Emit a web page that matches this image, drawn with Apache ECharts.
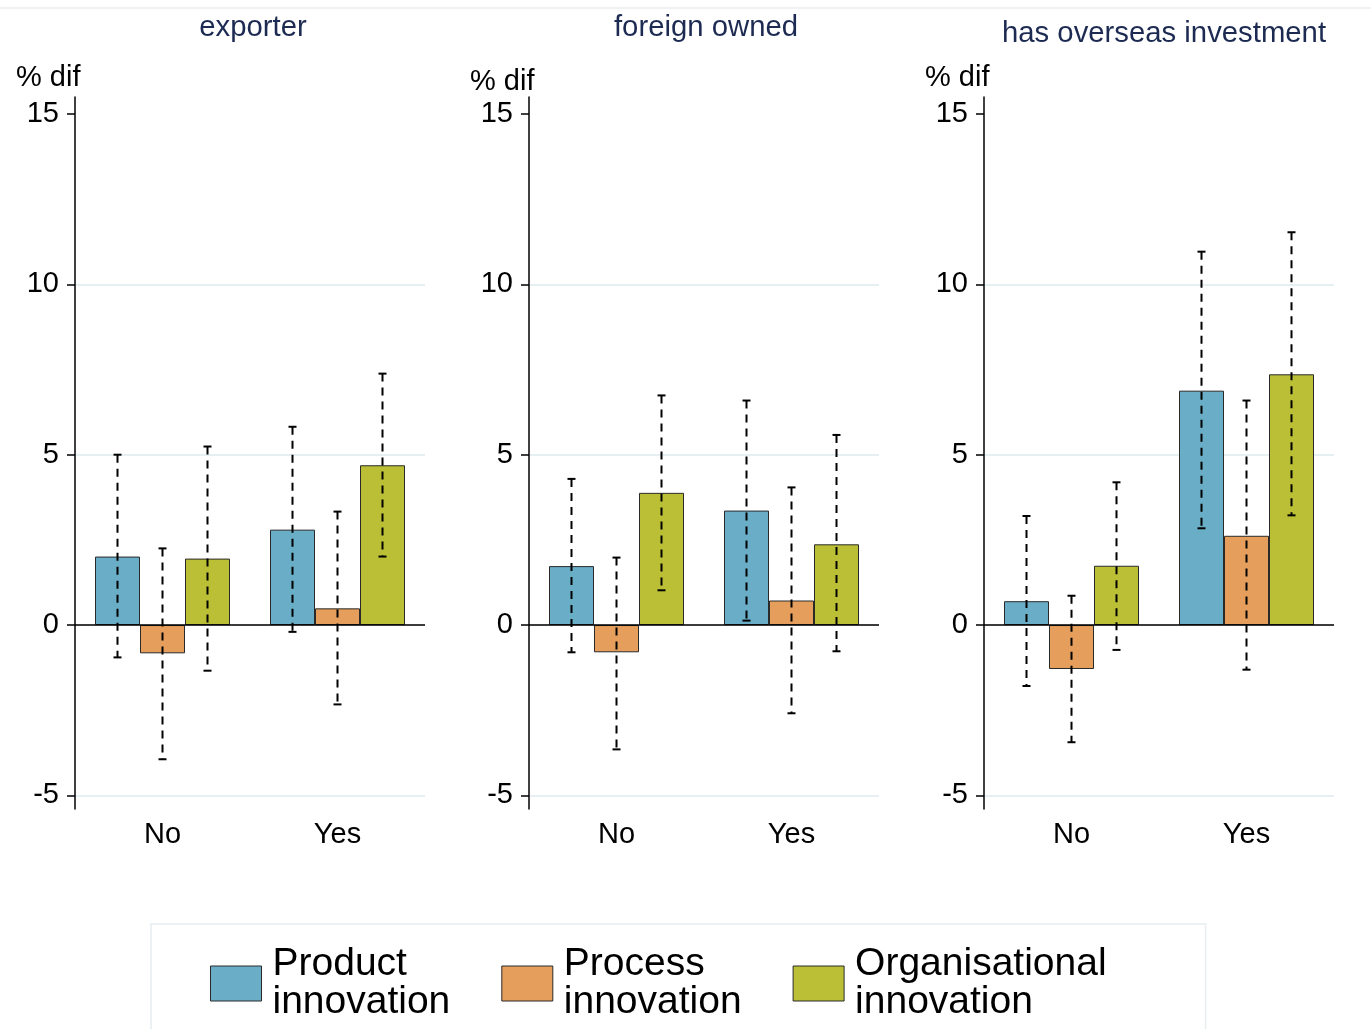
<!DOCTYPE html>
<html>
<head>
<meta charset="utf-8">
<title>% dif by firm type</title>
<script src="https://cdn.jsdelivr.net/npm/echarts@6/dist/echarts.min.js"></script>
<style>
  html, body { margin: 0; padding: 0; background: #fff; }
  #chart { width: 1371px; height: 1029px; }
</style>
</head>
<body>
<div id="chart"></div>
<script>
// values, one entry per panel: [No, Yes]
const panels = ['exporter', 'foreign owned', 'has overseas investment']
const categories = ['No', 'Yes']
const seriesNames = ['Product innovation', 'Process innovation', 'Organisational innovation']
const yTicks = [-5, 0, 5, 10, 15]

const productMean = [[2.01, 2.80], [1.73, 3.36], [0.70, 6.88]]
const productLow = [[-0.95, -0.20], [-0.80, 0.13], [-1.79, 2.84]]
const productHigh = [[5.00, 5.82], [4.29, 6.59], [3.20, 10.96]]

const processMean = [[-0.83, 0.49], [-0.80, 0.72], [-1.29, 2.62]]
const processLow = [[-3.94, -2.33], [-3.65, -2.59], [-3.44, -1.31]]
const processHigh = [[2.25, 3.33], [1.98, 4.04], [0.86, 6.59]]

const orgMean = [[1.95, 4.69], [3.88, 2.37], [1.74, 7.36]]
const orgLow = [[-1.34, 2.01], [1.02, -0.77], [-0.73, 3.22]]
const orgHigh = [[5.24, 7.38], [6.74, 5.58], [4.19, 11.53]]

const colors = ['#69adc6', '#e59e5b', '#babf35']
const font = "'Liberation Sans', Arial, Helvetica, sans-serif"
const barW = 45
const capW = 4

// layout of each panel
const gridLeft = [75, 529, 984]
const titleCenter = [253, 706, 1164]
const titleTop = [13, 13, 19]
const difTop = [63, 67, 63]

let myChart = echarts.init(document.getElementById('chart'))

const means = [productMean, processMean, orgMean]
const lows = [productLow, processLow, orgLow]
const highs = [productHigh, processHigh, orgHigh]

function renderErr (params, api) {
  const x = api.coord([api.value(0), 0])[0] + api.value(3) * barW
  const yLo = api.coord([api.value(0), api.value(1)])[1]
  const yHi = api.coord([api.value(0), api.value(2)])[1]
  const solid = { stroke: '#000', lineWidth: 2 }
  return {
    type: 'group',
    children: [
      { type: 'line', shape: { x1: x, y1: yHi, x2: x, y2: yLo }, style: { stroke: '#000', lineWidth: 2, lineDash: [8, 6] } },
      { type: 'line', shape: { x1: x - capW, y1: yHi, x2: x + capW, y2: yHi }, style: solid },
      { type: 'line', shape: { x1: x - capW, y1: yLo, x2: x + capW, y2: yLo }, style: solid }
    ]
  }
}

let grids = []
let xAxes = []
let yAxes = []
let series = []
let titles = []

for (let p = 0; p < panels.length; p++) {
  grids.push({ left: gridLeft[p], top: 97, width: 350, height: 712 })
  xAxes.push({
    type: 'category',
    gridIndex: p,
    data: categories,
    axisLine: { show: false, onZero: false },
    axisTick: { show: false },
    axisLabel: { fontSize: 29, color: '#000', fontFamily: font, margin: 11 }
  })
  yAxes.push({
    type: 'value',
    gridIndex: p,
    min: -5.4,
    max: 15.5,
    axisLine: { show: true, lineStyle: { color: '#000', width: 1.5 } },
    axisTick: { show: true, length: 8, customValues: yTicks, lineStyle: { color: '#000', width: 1.5 } },
    axisLabel: { fontSize: 29, color: '#000', fontFamily: font, margin: 16, customValues: yTicks },
    splitLine: {
      show: true,
      lineStyle: { color: ['#e6eff1', '#e6eff1', '#e6eff1', '#e6eff1', 'rgba(0,0,0,0)'], width: 2 }
    }
  })
  titles.push({
    text: panels[p],
    left: titleCenter[p],
    textAlign: 'center',
    top: titleTop[p],
    padding: 0,
    textStyle: { fontSize: 29.3, fontWeight: 'normal', color: '#1d2b52', fontFamily: font }
  })
  titles.push({
    text: '% dif',
    left: gridLeft[p] - 59,
    top: difTop[p],
    padding: 0,
    textStyle: { fontSize: 29, fontWeight: 'normal', color: '#000', fontFamily: font }
  })

  let errData = []
  for (let s = 0; s < seriesNames.length; s++) {
    let bar = {
      name: seriesNames[s],
      type: 'bar',
      xAxisIndex: p,
      yAxisIndex: p,
      data: means[s][p],
      barWidth: barW,
      barGap: '0%',
      color: colors[s],
      itemStyle: { color: colors[s], borderColor: '#2a2a2a', borderWidth: 1 },
      z: 2
    }
    if (s === 0) {
      bar.markLine = {
        silent: true,
        symbol: 'none',
        label: { show: false },
        lineStyle: { color: '#000', width: 1.5, type: 'solid' },
        data: [{ yAxis: 0 }]
      }
    }
    series.push(bar)
    for (let c = 0; c < categories.length; c++) {
      errData.push([c, lows[s][p][c], highs[s][p][c], s - 1])
    }
  }
  series.push({
    type: 'custom',
    xAxisIndex: p,
    yAxisIndex: p,
    renderItem: renderErr,
    encode: { x: 0, y: [1, 2] },
    data: errData,
    silent: true,
    z: 4
  })
}

myChart.setOption({
  animation: false,
  backgroundColor: '#fff',
  textStyle: { fontFamily: font },
  title: titles,
  grid: grids,
  xAxis: xAxes,
  yAxis: yAxes,
  legend: {
    data: seriesNames,
    left: 151,
    top: 924,
    padding: [21, 99, 24, 59],
    borderColor: '#e6eef0',
    borderWidth: 1.5,
    icon: 'rect',
    itemWidth: 51,
    itemHeight: 35,
    itemGap: 51,
    itemStyle: { borderColor: '#2a2a2a', borderWidth: 1 },
    selectedMode: false,
    formatter: function (name) { return name.replace(' ', '\n') },
    textStyle: { fontSize: 39, lineHeight: 38, color: '#000', fontFamily: font, padding: [0, 0, 0, 6] }
  },
  graphic: [
    { type: 'line', shape: { x1: 0, y1: 8, x2: 1371, y2: 8 }, style: { stroke: '#e8eef0', lineWidth: 1.5 } }
  ],
  series: series
})
</script>
</body>
</html>
